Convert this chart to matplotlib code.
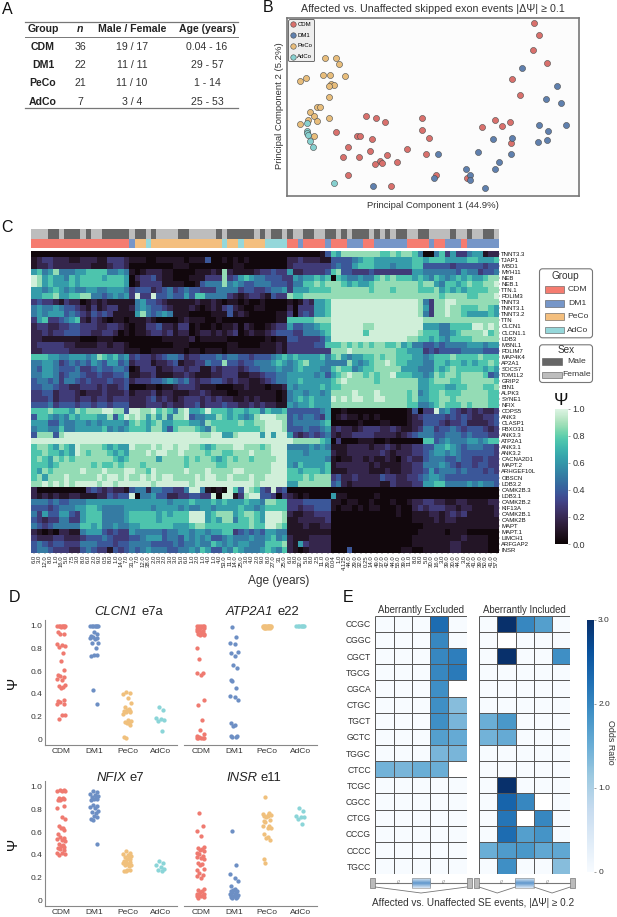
import numpy as np
import matplotlib
matplotlib.use("Agg")
import matplotlib.pyplot as plt
from matplotlib.colors import ListedColormap, LinearSegmentedColormap
from matplotlib.patches import FancyBboxPatch, Rectangle
import seaborn as sns

plt.rcParams['font.family'] = ['Liberation Sans', 'DejaVu Sans']

W, H = 617, 917
GROUPS = ["CDM", "DM1", "PeCo", "AdCo"]

# panel A
TABLE_HEADER = ["Group", "n", "Male / Female", "Age (years)"]
TABLE_N = ["36", "22", "21", "7"]
TABLE_SEX = ["19 / 17", "11 / 11", "11 / 10", "3 / 4"]
TABLE_AGE = ["0.04 - 16", "29 - 57", "1 - 14", "25 - 53"]

# panel B, scores on a 0-100 scale of the plot frame
PC_CDM = [(84.4, 96.9), (86.2, 90.4), (84.1, 82.0), (88.9, 74.5), (77.1, 65.4), (79.7, 56.9),
          (71.1, 42.9), (76.3, 41.5), (73.5, 39.4), (66.9, 38.7), (76.6, 30.0), (46.1, 43.9),
          (46.1, 37.0), (48.8, 32.4), (47.7, 23.5), (41.2, 26.4), (27.2, 45.0), (30.4, 43.5),
          (33.7, 41.5), (16.9, 35.7), (23.9, 33.9), (25.2, 33.9), (29.2, 31.8), (20.8, 27.5),
          (19.4, 22.0), (24.7, 21.7), (28.6, 25.2), (34.3, 22.8), (31.9, 19.4), (32.7, 18.5),
          (30.2, 18.0), (37.7, 18.8), (21.1, 11.8), (35.5, 5.6), (51.0, 11.6), (61.7, 9.9)]
PC_DM1 = [(80.4, 72.0), (92.3, 61.5), (88.5, 54.6), (93.7, 52.0), (86.2, 39.8), (95.5, 39.6),
          (89.4, 36.4), (76.9, 32.5), (70.5, 32.0), (86.0, 30.4), (88.9, 31.6), (76.6, 23.5),
          (65.3, 24.9), (51.6, 23.5), (72.6, 18.9), (71.3, 15.3), (61.2, 15.1), (62.5, 11.6),
          (62.6, 9.0), (50.4, 10.0), (67.7, 4.5), (29.4, 5.8)]
PC_PECO = [(13.2, 77.4), (16.8, 77.4), (17.8, 74.0), (12.3, 67.8), (14.8, 67.8), (19.9, 67.1),
           (6.5, 66.4), (4.4, 64.5), (15.0, 62.8), (16.1, 62.0), (14.4, 61.7), (14.4, 55.7),
           (10.4, 50.0), (11.4, 50.0), (7.8, 47.0), (9.2, 45.0), (7.2, 42.8), (10.2, 42.0),
           (14.5, 43.5), (4.4, 40.6), (9.3, 33.9)]
PC_ADCO = [(6.8, 41.0), (6.8, 36.4), (7.1, 35.5), (7.4, 34.0), (7.9, 30.8), (9.1, 27.6), (16.1, 7.5)]

# panel C, one digit per cell, DIGIT_PSI gives the psi of each digit
GENES = ["TNNT3.3", "TJAP1", "MBD1", "MYH11", "NEB", "NEB.1", "TTN.1", "PDLIM3", "TNNT3", "TNNT3.1",
         "TNNT3.2", "TTN", "CLCN1", "CLCN1.1", "LDB3", "MBNL1", "PDLIM7", "MAP4K4", "AP2A1", "SOCS7",
         "TOM1L2", "GRIP2", "BIN1", "ALPK3", "SYNE1", "NFIX", "COPS5", "ANK3", "CLASP1", "FBXO31",
         "ANK3.3", "ATP2A1", "ANK3.1", "ANK3.2", "CACNA2D1", "MAPT.2", "ARHGEF10L", "OBSCN", "LDB3.2",
         "CAMK2B.3", "LDB3.1", "CAMK2B.2", "KIF13A", "CAMK2B.1", "CAMK2B", "MAPT", "MAPT.1", "LIMCH1",
         "ARFGAP2", "INSR"]
DIGIT_PSI = [0.02, 0.09, 0.18, 0.28, 0.38, 0.5, 0.62, 0.76, 0.87, 0.97]
PSI_ROWS = [
    "000000000000000000 00000 00000 00000 00000 00000 0000 00000014 76888888877878875 00573633566122",
    "123322211222113332 11100 11111 01114 00101 01000 0000 22322211 44445677666666677 67776666776667",
    "122322222221112332 00000 00011 10000 00001 10000 0000 23333333 45446777666566677 44444344444344",
    "675685556677775565 10122 21100 00111 21821 11123 3433 62233334 78443334333333366 55555546553445",
    "986766576777767776 02334 21100 01113 33834 67655 4443 36566767 07655655787877767 65765676766788",
    "986766676777777776 01333 31111 00145 55856 54455 5444 35577878 88767667888888887 88657767877889",
    "665676565566556665 34442 34534 54433 35555 34433 4556 36667777 88888887888788887 77867676777788",
    "667786677885545656 39339 44544 64775 55532 12332 1433 87788888 88888888888888888 88878888778889",
    "343321322012121111 15644 32111 11211 21011 01001 0000 10132667 99999999999999998 53889988888888",
    "565565443213123311 25654 43211 12101 21342 10011 0000 20333667 99999999999999998 63889887778876",
    "565666454324343111 16854 56511 10000 11141 21000 0011 30343667 99999999999999998 53889887666676",
    "367334567213210110 11121 00001 21110 01000 00000 0011 77777888 99999999999999999 88888888888888",
    "233223344333223321 01133 42213 30100 10112 02100 1233 64455677 99999988999999999 66655777799898",
    "223233444332233201 01123 32312 20122 12123 01211 2344 43355567 99999979999999998 77755678888978",
    "221111111000111000 00000 01111 12011 11100 00000 1011 44333346 99999999999999887 76765777788888",
    "233333221111221221 00000 00011 10000 00011 00001 1121 33333447 77878787887786755 44545555666566",
    "223333322222222221 11001 11111 01101 11011 11111 1121 33333333 88898888888877666 34344445555444",
    "777665566656876756 34332 34554 23344 45455 44344 4567 67666675 78656677878877766 56777877778777",
    "556653454546546645 23331 22341 22335 44844 34455 5676 56786665 55586567889877666 55776776767787",
    "546654445334544554 01333 12233 23311 32333 23445 5565 56766655 78775677888886665 55767877777676",
    "556653455433433445 11223 11122 32111 22333 11223 4455 66666564 67898878788977766 56878878888745",
    "455453554343334334 23334 45654 53233 44323 22112 3455 66766666 78988888788888886 67888778888887",
    "445543322333232234 00011 01123 33211 10001 12111 0112 65666676 77888888888888886 67776677888778",
    "334423332122232223 12223 12211 12232 11100 11111 1101 56656656 88889888988888785 67787778888877",
    "333423332332332333 22234 23212 33323 23221 12121 1101 56767666 98989988998888786 67788788888877",
    "444534443443443444 22233 32322 33423 33433 22323 2211 65667666 88888888888888775 56787778788877",
    "777877768788899884 99889 78758 96679 77767 76775 7667 44444456 00100000000000140 33956432323223",
    "477656576777668479 89868 68588 94556 68767 65689 9988 45455436 01211010100000123 44443434322334",
    "666446556656566665 78767 86677 76658 77777 87788 9998 45555567 00000100011000122 44432334222234",
    "566557556666675656 77768 86478 88765 87777 77778 9998 44454456 23221233322321123 55344543444323",
    "488848999999999999 99999 99999 99988 99668 99996 9699 63234345 21223333222212345 55445554544433",
    "999999999999999999 99999 99999 99999 99999 99999 9999 98888876 03000111001000000 77456555665677",
    "788768769888876766 98889 89989 98876 78889 98887 8999 55556565 11122221223212233 44667654555443",
    "778776769878887676 88898 99889 88887 88778 88988 8999 66656666 21122222232122233 45665654444443",
    "787687878888888767 88888 68888 78788 76787 88788 8899 66666665 10112212112102322 45554454433433",
    "777678888887877878 88788 88888 78888 87788 88888 8999 65766667 12222221211112233 55565434434433",
    "768788888988898889 98879 88888 98889 88889 98888 8999 77677767 11122221112112233 46455545444343",
    "786888988888989989 88989 89988 88989 98898 88988 9999 77787888 34223222243322334 56654444444444",
    "889898989999899899 99998 99999 98999 99999 99989 9999 66888888 45212222211322233 66775555656554",
    "200000000034323221 45525 54433 59951 01097 49874 3934 00000000 00000000000000000 00000000000000",
    "212121122111224344 90556 44223 34433 90991 38994 4303 21010000 61100000100000000 00000000000000",
    "555454455566666666 66666 66566 67666 76766 67665 8877 33344444 11011001000100122 33221122111122",
    "444345556677655556 66665 66665 65566 56666 76656 7777 33233444 10110101100010023 23332212211112",
    "536446643677755556 77777 67677 79996 78886 78876 9998 21122333 00000000000010011 12212323111112",
    "432335533677755556 77777 67777 79996 76885 77876 9998 11222223 00000000000000011 11212211111111",
    "543455555776755655 66777 77766 67887 77777 77877 9987 11121122 00000000000000000 11111111111111",
    "210102211566643433 65555 54556 65665 66773 45454 6655 11111111 00000000000000001 11110111000000",
    "322233222344454333 44566 64554 65656 44565 55655 6756 21112222 00000000000000011 11111112111100",
    "454344333555444344 55554 44454 55655 76565 66555 7778 21632222 00000000000000011 11111221111100",
    "455433322454331434 54565 55445 56576 44657 65556 7657 21012222 00040000000001100 11111221111100",
]
COL_GROUP = ("C" * 18 + "D" + "P" * 2 + "A" + "P" * 13 + "A" + "P" * 2 + "A" + "P" * 4 + "A" * 4
             + "C" * 2 + "D" + "C" * 4 + "D" + "C" * 3 + "D" * 3 + "C" * 2 + "D" * 6 + "C" * 4
             + "D" + "C" * 2 + "D" * 3 + "C" + "D" * 6)
COL_SEX = ("FFFMMFMMMFMFFMMMMMFMMFMFFFFMMFFFFFMFMMMMMFM"
           "FMMFMFFMMFFMMFMFMMMFMFMFMMFFMMFFFFMFFMFFMMF")
COL_AGE = ["6.0", "3.0", "12.0", "8.0", "1.0", "16.0", "5.0", "7.5", "3.0", "8.0", "6.0", "2.0",
           "9.0", "0.5", "8.0", "1.0", "14.0", "7.0", "31.0", "7.0", "12.0", "38.0", "2.0", "3.0",
           "2.0", "3.0", "3.0", "5.0", "6.0", "1.0", "2.0", "1.0", "4.0", "1.0", "4.0", "53.0",
           "11.0", "14.0", "25.0", "3.0", "4.0", "2.0", "9.0", "8.0", "27.0", "31", "25.0",
           "6.0", "8.0", "32.0", "5.0", "8.0", "2.5", "11.0", "29.0", "0.04", "1.0", "4.125",
           "44.0", "29.0", "32.0", "0.25", "14.0", "49.0", "37.0", "42.0", "44.0", "55.0", "39.0",
           "11.0", "8.0", "8.0", "5.0", "30.0", "16.0", "3.0", "39.0", "30.0", "44.0", "3.0",
           "34.0", "41.0", "39.0", "50.0", "41.0", "57.0"]

# panel D, psi per group
CLCN1_PSI = [[1, 1, 1, 1, 1, 1, 1, .99, .99, .94, .93, .93, .84, .83, .82, .81, .76, .69, .61, .57, .56,
              .55, .53, .52, .48, .47, .46, .45, .35, .34, .33, .31, .31, .21, .21, .18],
             [1, 1, 1, 1, 1, 1, 1, .94, .93, .91, .9, .89, .89, .88, .85, .85, .8, .74, .74, .73, .43, .31],
             [.42, .41, .4, .36, .32, .28, .27, .26, .25, .25, .24, .24, .22, .17, .16, .15, .14, .14, .13, .02, .01],
             [.28, .26, .19, .18, .17, .16, .07]]
ATP2A1_PSI = [[1, 1, 1, 1, 1, .99, .99, .98, .98, .97, .96, .95, .95, .94, .93, .93, .93, .92, .92, .8, .71,
               .58, .58, .57, .35, .3, .17, .08, .05, .03, .02, .01, .01, .01, .01, .01],
              [.99, .9, .85, .84, .77, .76, .73, .65, .63, .52, .51, .45, .38, .37, .35, .14, .13, .12, .03, .03, .02, .02],
              [1, 1, 1, 1, 1, 1, 1, 1, 1, .99, .99, .99, .99, .99, .99, .99, .98, .98, .98, .98, .98],
              [1, 1, 1, 1, 1, 1, 1]]
NFIX_PSI = [[.97, .97, .96, .96, .96, .9, .9, .89, .89, .88, .88, .83, .81, .73, .72, .65, .64, .64, .62, .58,
             .56, .55, .54, .53, .52, .5, .49, .48, .47, .46, .45, .44, .42, .42, .41, .4],
            [.96, .95, .94, .93, .92, .91, .9, .89, .89, .88, .84, .83, .82, .81, .79, .78, .77, .74, .73, .72, .71, .5],
            [.43, .42, .41, .4, .39, .38, .37, .36, .36, .35, .34, .34, .33, .32, .31, .31, .3, .27, .27, .26, .26],
            [.35, .33, .31, .29, .28, .27, .26]]
INSR_PSI = [[.77, .65, .61, .57, .47, .46, .45, .44, .43, .42, .41, .39, .38, .37, .36, .33, .32, .31, .28, .27,
             .24, .22, .21, .2, .1, .09, .08, .07, .06, .06, .05, .05, .04, .04, .03, .02],
            [.61, .31, .23, .2, .17, .13, .1, .09, .08, .08, .07, .07, .06, .06, .05, .05, .04, .04, .03, .03, .02, .02],
            [.91, .77, .76, .75, .75, .74, .74, .73, .71, .7, .69, .65, .65, .64, .64, .58, .56, .55, .53, .36, .33],
            [.81, .79, .74, .73, .73, .72, .67]]
JITTER = [-.05, .07, -.12, .02, .11, -.08, .04, -.02, .09, -.1]

# panel E
KMERS = ["CCGC", "CGGC", "CGCT", "TGCG", "CGCA", "CTGC", "TGCT", "GCTC", "TGGC", "CTCC", "TCGC",
         "CGCC", "CTCG", "CCCG", "CCCC", "TGCC"]
nan = float("nan")
ODDS_EXCLUDED = [[0, 0, 0, 2.3, 0], [0, 0, 0, 2.0, 0], [0, 0, 0, 2.0, 2.1], [0, 0, 0, 2.0, 2.15],
                 [0, 0, 0, 1.9, nan], [0, 0, 0, 1.9, 1.3], [0, 0, 0, 1.9, 1.4], [0, 0, 0, 1.7, 1.55],
                 [0, 0, 0, 1.4, 1.4], [1.45, 1.4, 1.5, 1.5, nan], [0, 0, 0, 0, 0], [0, 0, 0, 0, 0],
                 [0, 0, 0, 0, 0], [0, 0, 0, 0, 0], [0, 0, 0, 0, 0], [0, 0, 0, 0, 0]]
ODDS_INCLUDED = [[0, 3.0, 2.0, 1.7, 0], [0, nan, 0, 0, 0], [0, 3.0, 0, 0, 1.9], [0, 0, 0, 0, 0],
                 [0, 0, 0, 0, 0], [0, 0, 0, 0, 0], [1.5, 1.8, 0, 0, 0], [1.45, 1.55, 0, 0, 0],
                 [0, 0, 0, 0, 0], [0, 0, 0, 0, 0], [0, 3.0, 0, 0, 0], [0, 2.4, 2.0, nan, 0],
                 [0, 2.2, nan, 2.0, 0], [0, 2.3, 1.7, 1.85, 0], [1.5, 1.75, 1.8, 1.6, 1.6],
                 [0, 1.9, 0, 0, 1.3]]

PC_COLORS = ["#d9706c", "#5f80ae", "#e8bd7b", "#86d0cf"]
BAR_COLORS = ["#f57c70", "#7696c8", "#f4bf7e", "#95d7da"]
DOT_COLORS = ["#ef7a70", "#6d8fc4", "#f0c07c", "#8bd5d8"]
TEXT_GREY = "#333333"


def px_axes(fig, left, top, right, bottom):
    """Axes from a pixel box, y counted from the top of the figure."""
    return fig.add_axes([left / W, 1 - bottom / H, (right - left) / W, (bottom - top) / H])


def draw_table(ov):
    xs = [43, 80, 132, 207]
    ys = [47, 65, 83, 102]
    for x, label in zip(xs, TABLE_HEADER):
        ov.text(x, 29, label, ha="center", va="center", fontsize=7.6, fontweight="bold",
                fontstyle="italic" if label == "n" else "normal", color="#222222")
    for y, group, n, sex, age in zip(ys, GROUPS, TABLE_N, TABLE_SEX, TABLE_AGE):
        ov.text(xs[0], y, group, ha="center", va="center", fontsize=7.6, fontweight="bold", color="#222222")
        for x, cell in zip(xs[1:], (n, sex, age)):
            ov.text(x, y, cell, ha="center", va="center", fontsize=7.6, color=TEXT_GREY)
    for y, lw in ((21.7, 0.9), (37.3, 0.7), (108.3, 0.9)):
        ov.plot([25, 238], [y, y], color="#777777", lw=lw)


def draw_pca(fig, ov):
    ax = px_axes(fig, 286.7, 17.7, 579.3, 196)
    ax.set_facecolor("#fcfcfc")
    for points, name, color in zip((PC_CDM, PC_DM1, PC_PECO, PC_ADCO), GROUPS, PC_COLORS):
        pts = np.array(points)
        ax.scatter(pts[:, 0], pts[:, 1], s=19, color=color, edgecolor="#4a4a4a", linewidth=0.4, label=name)
    ax.set_xlim(0, 100)
    ax.set_ylim(0, 100)
    ax.set_xticks([])
    ax.set_yticks([])
    for spine in ax.spines.values():
        spine.set_color("#777777")
        spine.set_linewidth(1.2)
    leg = ax.legend(loc="upper left", bbox_to_anchor=(0.006, 0.99), fontsize=4.3, frameon=True, fancybox=True,
                    facecolor="#eeeeee", edgecolor="#555555", framealpha=1, borderpad=0.35,
                    labelspacing=0.95, handlelength=0.8, handletextpad=0.35, borderaxespad=0, markerscale=0.9)
    leg.get_frame().set_linewidth(0.6)
    ov.text(432.7, 9.5, "Affected vs. Unaffected skipped exon events |ΔΨ| ≥ 0.1", ha="center", va="center",
            fontsize=7.7, color=TEXT_GREY)
    ov.text(433, 206, "Principal Component 1 (44.9%)", ha="center", va="center", fontsize=6.8, color=TEXT_GREY)
    ov.text(279, 106, "Principal Component 2 (5.2%)", ha="center", va="center", rotation=90, fontsize=6.8,
            color=TEXT_GREY)


def annotation_bar(fig, top, bottom, values, colors):
    ax = px_axes(fig, 31.3, top, 499.3, bottom)
    ax.pcolormesh(np.array([values]), cmap=ListedColormap(colors), vmin=0, vmax=len(colors))
    ax.axis("off")


def draw_heatmap(fig, ov):
    cmap = sns.color_palette("mako", as_cmap=True)
    rows = []
    for row in PSI_ROWS:
        row = row.replace(" ", "")
        rows.append([DIGIT_PSI[int(c)] for c in row.ljust(86, row[-1])[:86]])
    psi = np.array(rows)

    annotation_bar(fig, 229, 238.7, ["MF".index(s) for s in COL_SEX], ["#666666", "#bdbdbd"])
    annotation_bar(fig, 238.7, 248.3, ["CDPA".index(g) for g in COL_GROUP], BAR_COLORS)

    ax = px_axes(fig, 31.3, 251, 499.3, 553)
    mesh = ax.pcolormesh(psi, cmap=cmap, vmin=0, vmax=1)
    ax.invert_yaxis()
    ax.set_yticks(np.arange(len(GENES)) + 0.5)
    ax.set_yticklabels(GENES, fontsize=4.3, color="#111111")
    ax.yaxis.tick_right()
    ax.set_xticks(np.arange(86) + 0.5)
    ax.set_xticklabels(COL_AGE, fontsize=4.3, rotation=90, color="#222222")
    ax.tick_params(axis="both", length=1, width=0.3, pad=0.5)
    for spine in ax.spines.values():
        spine.set_visible(False)
    ov.text(279, 581, "Age (years)", ha="center", va="center", fontsize=8.6, color=TEXT_GREY)

    # group and sex keys
    for top, bottom in ((268.3, 338.3), (344.3, 383)):
        ov.add_patch(FancyBboxPatch((541, top + 2), 50, bottom - top - 4, boxstyle="round,pad=1.5,rounding_size=3",
                                    fc="#ffffff", ec="#777777", lw=0.8))
    ov.text(565, 276.3, "Group", ha="center", va="center", fontsize=7.2, color=TEXT_GREY)
    for y, name, color in zip((289.8, 303.4, 316.5, 330), GROUPS, BAR_COLORS):
        ov.add_patch(Rectangle((545, y - 3.4), 19, 6.8, fc=color, ec="#555555", lw=0.4))
        ov.text(577.7, y, name, ha="center", va="center", fontsize=6.1, color=TEXT_GREY)
    ov.text(565.7, 350, "Sex", ha="center", va="center", fontsize=7.2, color=TEXT_GREY)
    for y, name, color in zip((361.3, 375), ("Male", "Female"), ("#666666", "#bdbdbd")):
        ov.add_patch(Rectangle((542, y - 3.4), 19.5, 6.8, fc=color, ec="#555555", lw=0.4))
        ov.text(577, y, name, ha="center", va="center", fontsize=6.1, color=TEXT_GREY)

    cax = px_axes(fig, 555, 408.7, 568.3, 544)
    cbar = fig.colorbar(mesh, cax=cax)
    cbar.set_ticks([0, .2, .4, .6, .8, 1])
    cbar.set_ticklabels(["0.0", "0.2", "0.4", "0.6", "0.8", "1.0"])
    cbar.ax.tick_params(length=1.5, width=0.4, labelsize=6.5, pad=1.5, labelcolor=TEXT_GREY, color="#555555")
    cbar.outline.set_visible(False)
    ov.text(560.7, 400.5, "Ψ", ha="center", va="center", fontsize=12.5, color="#111111")


def draw_strip(fig, ov, box, psi_groups, gene, exon, italic_end, exon_start, title_y, with_axis):
    ax = px_axes(fig, *box)
    for i, (values, color) in enumerate(zip(psi_groups, DOT_COLORS)):
        xs = [i + JITTER[j % len(JITTER)] for j in range(len(values))]
        ax.scatter(xs, values, s=9.5, color=color, linewidth=0, clip_on=False)
    ax.set_xlim(-0.5, 3.5)
    ax.set_ylim(-0.05, 1.05)
    ax.set_xticks(range(4))
    ax.set_xticklabels(GROUPS, fontsize=6, color=TEXT_GREY)
    ax.tick_params(axis="both", length=0, pad=2)
    ax.spines[["top", "right"]].set_visible(False)
    ax.spines["bottom"].set_color("#888888")
    ax.spines["left"].set_color("#888888")
    if with_axis:
        ax.set_yticks([0, .2, .4, .6, .8, 1])
        ax.set_yticklabels(["0", "0.2", "0.4", "0.6", "0.8", "1.0"], fontsize=6, color=TEXT_GREY)
        ax.set_ylabel("Ψ", fontsize=10.5, labelpad=7, color="#111111")
    else:
        ax.set_yticks([])
        ax.spines["left"].set_visible(False)
    # gene name in italics, exon in upright type
    ov.text(italic_end, title_y, gene, ha="right", va="center", fontsize=9.4, fontstyle="italic", color="#222222")
    ov.text(exon_start, title_y, exon, ha="left", va="center", fontsize=9.4, color="#222222")


def draw_odds(fig, ov, box, odds, title, show_rows):
    cmap = plt.get_cmap("Blues").copy()
    cmap.set_bad("white")
    ax = px_axes(fig, *box)
    mesh = ax.pcolormesh(np.ma.masked_invalid(np.array(odds)), cmap=cmap, vmin=0, vmax=3)
    ax.invert_yaxis()
    ax.vlines(range(6), 0, 16, color="#555555", lw=0.7)
    ax.hlines(range(17), 0, 5, color="#555555", lw=0.7)
    ax.set_xticks([])
    if show_rows:
        ax.set_yticks(np.arange(16) + 0.5)
        ax.set_yticklabels(KMERS, fontsize=6.2, color=TEXT_GREY)
        ax.tick_params(axis="y", length=0, pad=3)
    else:
        ax.set_yticks([])
    for spine in ax.spines.values():
        spine.set_visible(False)
    ov.text((box[0] + box[2]) / 2, 610, title, ha="center", va="center", fontsize=6.9, color=TEXT_GREY)
    return mesh


def draw_exon_diagram(ov, left, right, included):
    grad = LinearSegmentedColormap.from_list("exon", ["#d8e6f4", "#5f97cc", "#d8e6f4"])
    mid = (left + right) / 2
    ov.plot([left, right], [882.7, 882.7], color="#777777", lw=0.8, zorder=1)
    for x in (left - 5, right):
        ov.add_patch(Rectangle((x, 878), 5, 10, fc="#bbbbbb", ec="#777777", lw=0.5, zorder=2))
    ov.imshow(np.linspace(0, 1, 30)[:, None], extent=(mid - 9.2, mid + 9.2, 888, 878), aspect="auto",
              cmap=grad, zorder=2)
    ov.add_patch(Rectangle((mid - 9.2, 878), 18.4, 10, fc="none", ec="#888888", lw=0.4, zorder=3))
    for x in ((left + mid) / 2, (right + mid) / 2):
        ov.text(x, 882, "//", ha="center", va="center", fontsize=3.5, color="#555555", zorder=3)
    if included:
        ov.plot([left, (left + mid - 9.2) / 2, mid - 9.2], [887, 893, 887], color="#777777", lw=0.6)
        ov.plot([mid + 9.2, (right + mid + 9.2) / 2, right], [887, 893, 887], color="#777777", lw=0.6)
    else:
        ov.plot([left, mid, right], [887, 893, 887], color="#777777", lw=0.6)


def main():
    fig = plt.figure(figsize=(W / 100, H / 100), dpi=100, facecolor="white")
    ov = fig.add_axes([0, 0, 1, 1], zorder=5)
    ov.axis("off")

    for x, y, letter in ((7, 9, "A"), (268, 8, "B"), (7.5, 228, "C"), (15, 598, "D"), (348.5, 598, "E")):
        ov.text(x, y, letter, ha="center", va="center", fontsize=11.5, color="#111111")

    draw_table(ov)
    draw_pca(fig, ov)
    draw_heatmap(fig, ov)

    draw_strip(fig, ov, (44.7, 620, 177, 745), CLCN1_PSI, "CLCN1", "e7a", 137.3, 141.5, 612, True)
    draw_strip(fig, ov, (184, 620, 317, 745), ATP2A1_PSI, "ATP2A1", "e22", 273, 277.5, 612, False)
    draw_strip(fig, ov, (44.7, 781, 177, 906), NFIX_PSI, "NFIX", "e7", 126, 129, 778, True)
    draw_strip(fig, ov, (184, 781, 317, 906), INSR_PSI, "INSR", "e11", 257, 260.5, 778, False)

    draw_odds(fig, ov, (375.3, 615.7, 466.7, 874.3), ODDS_EXCLUDED, "Aberrantly Excluded", True)
    mesh = draw_odds(fig, ov, (479, 615.7, 570.3, 874.3), ODDS_INCLUDED, "Aberrantly Included", False)
    cax = px_axes(fig, 587.3, 620, 594, 871.7)
    cbar = fig.colorbar(mesh, cax=cax)
    cbar.set_ticks([0, 1, 2, 3])
    cbar.set_ticklabels(["0", "1.0", "2.0", "3.0"])
    cbar.ax.tick_params(length=1.5, width=0.4, labelsize=6, pad=1.5, labelcolor=TEXT_GREY, color="#555555")
    cbar.outline.set_visible(False)
    ov.text(611, 742, "Odds Ratio", ha="center", va="center", rotation=270, fontsize=6.4, color=TEXT_GREY)

    draw_exon_diagram(ov, 375.3, 466.7, False)
    draw_exon_diagram(ov, 479, 570.3, True)
    ov.set_xlim(0, W)
    ov.set_ylim(H, 0)
    ov.text(472.7, 903, "Affected vs. Unaffected SE events, |ΔΨ| ≥ 0.2", ha="center", va="center", fontsize=7.2,
            color=TEXT_GREY)

    fig.savefig("out.png", dpi=100)


if __name__ == "__main__":
    main()
